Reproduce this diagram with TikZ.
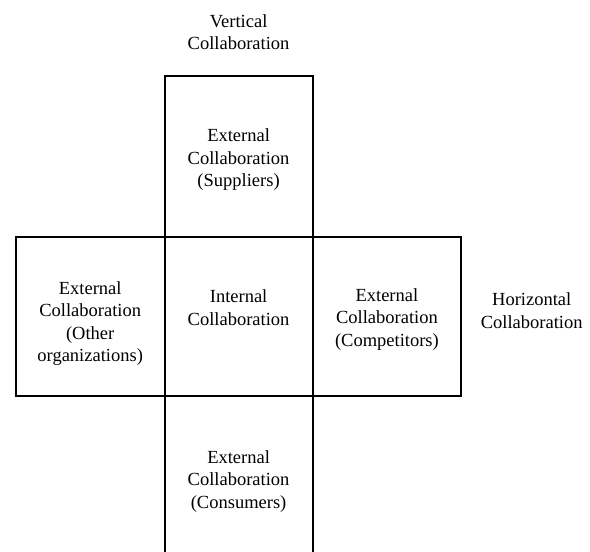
\documentclass[tikz,border=0pt]{standalone}
\usepackage{fontspec}
\setmainfont{Liberation Serif}
\begin{document}
\begin{tikzpicture}[x=1bp,y=-1bp,
  cell/.style={draw=black,line width=2bp,minimum width=148.2bp,inner sep=0pt,outer sep=0pt,anchor=north west},
  lbl/.style={align=center,inner sep=0pt,anchor=base,font=\fontsize{18.5bp}{22.5bp}\selectfont}]
\useasboundingbox[fill=white] (0,0) rectangle (590,552);
\node[cell,minimum height=160bp] (top) at (164.5,76.5) {};
\node[cell,minimum height=159.5bp] (center) at (164.5,236.5) {};
\node[cell,minimum height=159.5bp] (left) at (16.3,236.5) {};
\node[cell,minimum height=159.5bp] (right) at (312.7,236.5) {};
\node[cell,minimum height=180bp] (bottom) at (164.5,396) {};
\node[lbl] (vert) at (238.6,50) {Vertical\\Collaboration};
\node[lbl] (horiz) at (531.7,328.3) {Horizontal\\Collaboration};
\node[lbl] (tsup) at (238.6,186.7) {External\\Collaboration\\(Suppliers)};
\node[lbl] (tint) at (238.6,325) {Internal\\Collaboration};
\node[lbl] (toth) at (90.2,361.7) {External\\Collaboration\\(Other\\organizations)};
\node[lbl] (tcomp) at (386.9,346) {External\\Collaboration\\(Competitors)};
\node[lbl] (tcons) at (238.6,508.3) {External\\Collaboration\\(Consumers)};
\end{tikzpicture}
\end{document}
